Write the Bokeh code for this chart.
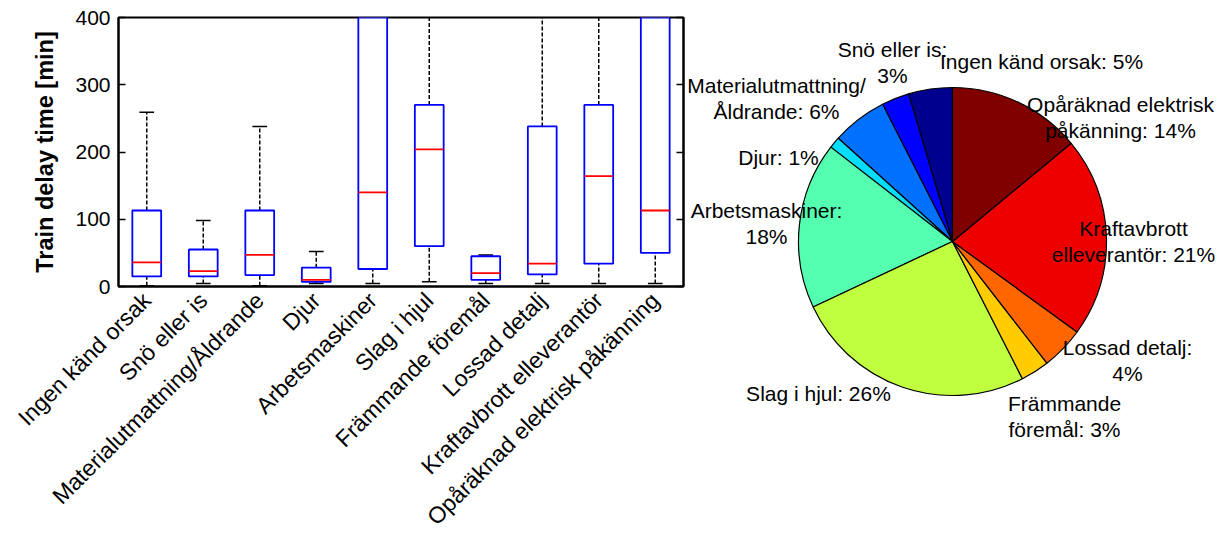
import math
import numpy as np
from bokeh.plotting import figure
from bokeh.models import ColumnDataSource, Range1d, FactorRange, FixedTicker, LinearAxis
from bokeh.layouts import row
from bokeh.transform import dodge
from bokeh.embed import file_html
from bokeh.resources import INLINE
from bokeh.core.properties import value

# ---------------- data ----------------
categories = ["Ingen känd orsak", "Snö eller is", "Materialutmattning/Åldrande", "Djur",
              "Arbetsmaskiner", "Slag i hjul", "Främmande föremål", "Lossad detalj",
              "Kraftavbrott elleverantör", "Opåräknad elektrisk påkänning"]
whisker_low = [1, 4.5, 1, 4.5, 4.5, 7, 4.5, 4.5, 4.5, 4.5]
q1 = [15, 15, 17, 7, 26, 60, 10, 18, 34, 50]
median = [36, 23, 47, 10, 140, 204, 20, 34, 164, 113]
q3 = [113, 55, 113, 28, 520, 270, 45, 238, 270, 480]
whisker_high = [259, 98, 238, 52, 1000, 600, 47, 560, 620, 900]
y_ticks = [0, 100, 200, 300, 400]

pie_share = [4.6, 2.9, 5.8, 1.2, 17.5, 25.5, 3.0, 4.5, 21.0, 14.0]
pie_labels = ["Ingen känd orsak: 5%", "Snö eller is:\n3%", "Materialutmattning/\nÅldrande: 6%",
              "Djur: 1%", "Arbetsmaskiner:\n18%", "Slag i hjul: 26%", "Främmande\nföremål: 3%",
              "Lossad detalj:\n4%", "Kraftavbrott\nelleverantör: 21%",
              "Opåräknad elektrisk\npåkänning: 14%"]

# ---------------- styles / layout ----------------
FONT = "Liberation Sans"
pie_colors = ["#00008F", "#0000FF", "#0070FF", "#00DDFF", "#55FFB0", "#C0FF40",
              "#FFCC00", "#FF6600", "#EE0000", "#800000"]
# label anchor (centre x, first line centre y) in page pixels
label_anchor = [(1041, 61), (892, 49), (776, 85), (778, 157), (766, 210), (818, 393),
                (1064, 403), (1127, 347), (1133, 228), (1120, 104)]
LINE_STEP = 26
PIE_CX, PIE_CY, PIE_R = 952, 241, 154

W1, H = 686, 542
W2 = 1221 - W1

# ---------------- box plot ----------------
src = ColumnDataSource(dict(cat=categories, lo=whisker_low, q1=q1, med=median, q3=q3, hi=whisker_high))

p = figure(x_range=FactorRange(factors=categories), y_range=Range1d(0, 400),
           width=W1, height=H, output_backend="svg", toolbar_location=None,
           min_border_left=118, min_border_top=17, min_border_right=3,
           min_border_bottom=H - 17 - 269)
p.frame_align = False
p.background_fill_color = "white"
p.border_fill_color = "white"
p.xgrid.visible = False
p.ygrid.visible = False
p.outline_line_color = "black"
p.outline_line_width = 2

# whiskers
p.segment(x0="cat", y0="q3", x1="cat", y1="hi", source=src, line_color="black",
          line_width=1.5, line_dash="4 2")
p.segment(x0="cat", y0="lo", x1="cat", y1="q1", source=src, line_color="black",
          line_width=1.5, line_dash="4 2")
# caps
p.segment(x0=dodge("cat", -0.13, range=p.x_range), y0="hi",
          x1=dodge("cat", 0.13, range=p.x_range), y1="hi", source=src,
          line_color="black", line_width=1.5)
p.segment(x0=dodge("cat", -0.13, range=p.x_range), y0="lo",
          x1=dodge("cat", 0.13, range=p.x_range), y1="lo", source=src,
          line_color="black", line_width=1.5)
# boxes
p.vbar(x="cat", bottom="q1", top="q3", width=0.51, source=src, fill_color="white",
       line_color="#0000FF", line_width=1.8)
# medians
p.segment(x0=dodge("cat", -0.255, range=p.x_range), y0="med",
          x1=dodge("cat", 0.255, range=p.x_range), y1="med", source=src,
          line_color="#FF0000", line_width=1.8)

p.xaxis.major_label_orientation = math.pi / 4
p.xaxis.major_tick_line_color = None
p.xaxis.minor_tick_line_color = None
p.xaxis.axis_line_width = 2
p.xaxis.major_label_text_font = FONT
p.xaxis.major_label_text_font_size = "23px"
p.xaxis.major_label_text_color = "black"
p.xaxis.major_label_standoff = 4

p.yaxis.ticker = FixedTicker(ticks=y_ticks)
p.yaxis.major_tick_in = 7
p.yaxis.major_tick_out = 0
p.yaxis.minor_tick_line_color = None
p.yaxis.axis_line_width = 2
p.yaxis.major_tick_line_width = 1.5
p.yaxis.major_label_text_font = FONT
p.yaxis.major_label_text_font_size = "21px"
p.yaxis.major_label_text_color = "black"
p.yaxis.major_label_standoff = 8
p.yaxis.axis_label = "Train delay time [min]"
p.yaxis.axis_label_text_font = FONT
p.yaxis.axis_label_text_font_size = "23.5px"
p.yaxis.axis_label_text_font_style = "bold"
p.yaxis.axis_label_text_color = "black"
p.yaxis.axis_label_standoff = 14

right_axis = LinearAxis(ticker=FixedTicker(ticks=y_ticks), major_tick_in=7, major_tick_out=0,
                        minor_tick_line_color=None, axis_line_width=2, major_tick_line_width=1.5,
                        major_label_overrides={t: "" for t in y_ticks},
                        major_label_standoff=0)
p.add_layout(right_axis, "right")

# ---------------- pie ----------------
x0 = W1
q = figure(width=W2, height=H, output_backend="svg", toolbar_location=None,
           x_range=Range1d(x0 - PIE_CX, x0 + W2 - PIE_CX),
           y_range=Range1d(PIE_CY - H, PIE_CY),
           min_border=0)
q.frame_align = False
q.axis.visible = False
q.xgrid.visible = False
q.ygrid.visible = False
q.outline_line_color = None
q.background_fill_color = "white"
q.border_fill_color = "white"

share = np.array(pie_share, dtype=float)
frac = share / share.sum()
cum = np.concatenate([[0.0], np.cumsum(frac)])
start = np.pi / 2 + 2 * np.pi * cum[:-1]
end = np.pi / 2 + 2 * np.pi * cum[1:]
psrc = ColumnDataSource(dict(start=start, end=end, color=pie_colors))
q.wedge(x=0, y=0, radius=PIE_R, start_angle="start", end_angle="end", direction="anticlock",
        fill_color="color", line_color="black", line_width=1.2, source=psrc)

tx, ty, tt = [], [], []
for lab, (ax, ay) in zip(pie_labels, label_anchor):
    for i, line in enumerate(lab.split("\n")):
        tx.append(ax - PIE_CX)
        ty.append(PIE_CY - (ay + i * LINE_STEP))
        tt.append(line)
q.text(x=tx, y=ty, text=tt, text_font=value(FONT), text_font_size="21px",
       text_align="center", text_baseline="middle", text_color="black")

layout = row(p, q)
open("out.html", "w").write(file_html(layout, INLINE))
